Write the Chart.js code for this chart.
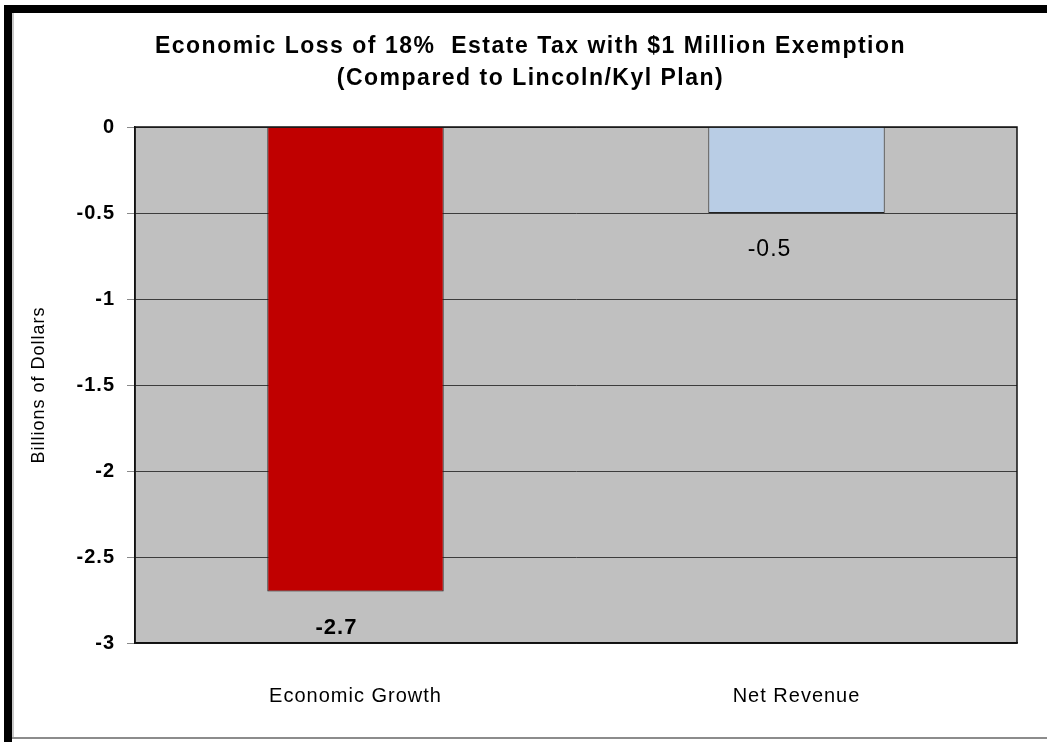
<!DOCTYPE html>
<html>

<head>
    <title>Economic Loss of 18% Estate Tax</title>
    <script src="https://cdn.jsdelivr.net/npm/chart.js"></script>
    <style>
        body { margin: 0; background: #fff; }
        #frame { position: absolute; left: 4px; top: 5px; width: 1043px; height: 734px;
                 border-top: 8px solid #000; border-left: 8px solid #000; border-bottom: 2px solid #8c8c8c;
                 box-sizing: border-box; box-shadow: inset 2px 0 0 #c8c8c8; }
        #leftbar { position: absolute; left: 4px; top: 5px; width: 8px; height: 737px; background: #000; }
        canvas { position: absolute; left: 0; top: 0; }
    </style>
</head>

<body>
    <div id="frame"></div>
    <div id="leftbar"></div>
    <canvas id="chart" width="1047" height="742"></canvas>
    <script>
        var titleLines = ['Economic Loss of 18%  Estate Tax with $1 Million Exemption', '(Compared to Lincoln/Kyl Plan)'];
        var categories = ['Economic Growth', 'Net Revenue'];
        var values = [-2.7, -0.5];
        var barColors = ['#C00000', '#B9CDE5'];
        var yTitle = 'Billions of Dollars';
        var yMin = -3, yMax = 0, yStep = 0.5;

        var fontFamily = 'Arial, "Liberation Sans", sans-serif';

        // the source picture is a bit stretched sideways, so the text gets some letter spacing
        var textSpacing = {
            id: 'textSpacing',
            beforeDraw: function (chart) { chart.ctx.letterSpacing = '1px'; },
            beforeDatasetsDraw: function (chart) { chart.ctx.letterSpacing = '0px'; }
        };

        // grey plot background + dark frame round the plot area
        var plotFrame = {
            id: 'plotFrame',
            beforeDraw: function (chart) {
                var a = chart.chartArea, c = chart.ctx;
                c.save();
                c.fillStyle = '#C0C0C0';
                c.fillRect(a.left, a.top, a.right - a.left, a.bottom - a.top);
                c.restore();
            },
            afterDatasetsDraw: function (chart) {
                var a = chart.chartArea, c = chart.ctx;
                c.save();
                c.strokeStyle = '#111';
                c.lineWidth = 1.5;
                c.strokeRect(a.left, a.top, a.right - a.left, a.bottom - a.top);
                c.restore();
            }
        };

        // value labels under the end of each bar
        var barLabels = {
            id: 'barLabels',
            afterDatasetsDraw: function (chart) {
                var c = chart.ctx;
                var meta = chart.getDatasetMeta(0);
                var fonts = ['bold 22px ', 'normal 23px '];
                var shift = [-19, -27];
                c.save();
                c.fillStyle = '#000';
                c.textAlign = 'center';
                c.textBaseline = 'middle';
                c.letterSpacing = '1px';
                meta.data.forEach(function (bar, i) {
                    c.font = fonts[i] + fontFamily;
                    c.fillText(String(values[i]), bar.x + shift[i], bar.y + 37);
                });
                c.restore();
            }
        };

        // two-line title, drawn by hand so it can be spaced like the original
        var chartTitle = {
            id: 'chartTitle',
            afterDraw: function (chart) {
                var c = chart.ctx;
                c.save();
                c.fillStyle = '#000';
                c.textAlign = 'center';
                c.textBaseline = 'middle';
                c.font = 'bold 23px ' + fontFamily;
                c.letterSpacing = '1.5px';
                titleLines.forEach(function (line, i) {
                    c.fillText(line, (chart.width + 14) / 2, 47 + i * 32);
                });
                c.restore();
            }
        };

        var ctx = document.getElementById('chart').getContext('2d');
        var chart = new Chart(ctx, {
            type: 'bar',
            data: {
                labels: categories,
                datasets: [{
                    data: values,
                    backgroundColor: barColors,
                    borderColor: '#222',
                    borderWidth: 1,
                    barPercentage: 0.4,
                    categoryPercentage: 1
                }]
            },
            options: {
                responsive: false,
                animation: false,
                devicePixelRatio: 1,
                layout: { padding: { left: 28, right: 30, top: 127, bottom: 0 } },
                plugins: {
                    legend: { display: false },
                    tooltip: { enabled: false },
                    title: { display: false }
                },
                scales: {
                    x: {
                        afterFit: function (s) { s.height = 99; },
                        grid: { display: false },
                        border: { display: true, color: '#111', width: 1.5 },
                        ticks: {
                            color: '#000',
                            padding: 33,
                            font: { family: fontFamily, size: 20 }
                        }
                    },
                    y: {
                        min: yMin,
                        max: yMax,
                        afterFit: function (s) { s.width = 107; },
                        grid: { color: '#3c3c3c', lineWidth: 1, tickLength: 8, tickColor: '#8a8a8a' },
                        border: { display: true, color: '#111', width: 1.5 },
                        ticks: {
                            stepSize: yStep,
                            color: '#000',
                            padding: 12,
                            font: { family: fontFamily, size: 20, weight: 'bold' },
                            callback: function (v) { return String(v); }
                        },
                        title: {
                            display: true,
                            text: yTitle,
                            color: '#000',
                            padding: 0,
                            font: { family: fontFamily, size: 18 }
                        }
                    }
                }
            },
            plugins: [textSpacing, plotFrame, barLabels, chartTitle]
        });
    </script>
</body>

</html>
